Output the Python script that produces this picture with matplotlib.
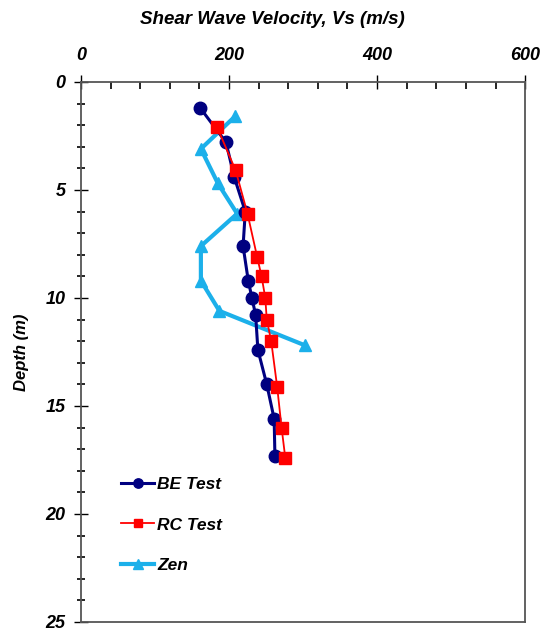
import matplotlib
matplotlib.use('Agg')
import matplotlib.pyplot as plt
from matplotlib.ticker import MultipleLocator

plt.rcParams['font.family'] = ['Liberation Sans', 'DejaVu Sans']

# BE test
be_vs = [161, 196, 207, 222, 219, 226, 231, 236, 239, 251, 261, 262]
be_depth = [1.2, 2.8, 4.4, 6.0, 7.6, 9.2, 10.0, 10.8, 12.4, 14.0, 15.6, 17.3]
# RC test
rc_vs = [184, 209, 225, 238, 244, 249, 251, 257, 265, 271, 276]
rc_depth = [2.1, 4.1, 6.1, 8.1, 9.0, 10.0, 11.0, 12.0, 14.1, 16.0, 17.4]
# Zen
zen_vs = [208, 162, 185, 211, 162, 162, 187, 303]
zen_depth = [1.6, 3.1, 4.7, 6.1, 7.6, 9.2, 10.6, 12.2]

fig = plt.figure(figsize=(5.47, 6.35), dpi=100)
ax = fig.add_axes([0.148, 0.0205, 0.812, 0.8505])

ax.plot(zen_vs, zen_depth, color='#1cb0ea', lw=3, marker='^', ms=9, label='Zen', zorder=2)
ax.plot(be_vs, be_depth, color='#000080', lw=2.2, marker='o', ms=9, label='BE Test', zorder=3)
ax.plot(rc_vs, rc_depth, color='#ff0000', lw=1.3, marker='s', ms=8, label='RC Test', zorder=4)

ax.set_xlim(0, 600)
ax.set_ylim(25, 0)
ax.xaxis.tick_top()
ax.xaxis.set_label_position('top')
ax.xaxis.set_major_locator(MultipleLocator(200))
ax.xaxis.set_minor_locator(MultipleLocator(40))
ax.yaxis.set_major_locator(MultipleLocator(5))
ax.yaxis.set_minor_locator(MultipleLocator(1))
ax.tick_params(axis='x', which='major', direction='inout', length=10, width=1, pad=8)
ax.tick_params(axis='x', which='minor', direction='in', length=5, width=1.2)
ax.tick_params(axis='y', which='major', direction='inout', length=10, width=1, pad=6)
ax.tick_params(axis='y', which='minor', direction='inout', length=6, width=1.2)
for s in ax.spines.values():
    s.set_color('#555555')
    s.set_linewidth(1.3)

for lab in ax.get_xticklabels() + ax.get_yticklabels():
    lab.set_fontsize(13)
    lab.set_fontweight('bold')
    lab.set_fontstyle('italic')

ax.set_xlabel('Shear Wave Velocity, Vs (m/s)', fontsize=13.5, fontweight='bold',
              fontstyle='italic')
ax.xaxis.set_label_coords(0.43, 1.107)
ax.set_ylabel('Depth (m)', fontsize=12, fontweight='bold', fontstyle='italic', labelpad=12)

h, l = ax.get_legend_handles_labels()
order = [1, 2, 0]
ax.legend([h[i] for i in order], [l[i] for i in order], loc='lower left',
          bbox_to_anchor=(0.055, 0.062), frameon=False, labelspacing=1.45,
          handlelength=1.9, handletextpad=0.2, markerscale=0.75,
          prop={'size': 12.5, 'weight': 'bold', 'style': 'italic'})

fig.savefig('out.png', dpi=100)
